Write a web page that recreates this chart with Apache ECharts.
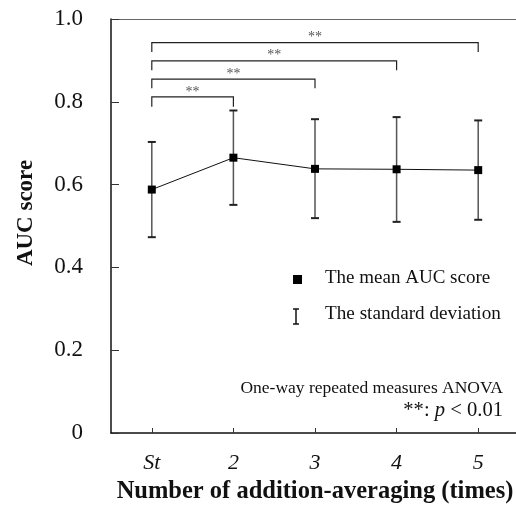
<!DOCTYPE html>
<html>
<head>
<meta charset="utf-8">
<script src="https://cdn.jsdelivr.net/npm/echarts@6/dist/echarts.min.js"></script>
<style>html,body{margin:0;padding:0;background:#fff;}#c{width:516px;height:505px;}</style>
</head>
<body>
<div id="c"></div>
<script>
// ---- data ----
var categories = ['St', '2', '3', '4', '5'];
var meanAUC = [0.588, 0.665, 0.638, 0.637, 0.635];
var sdUpper = [0.703, 0.779, 0.758, 0.763, 0.755];
var sdLower = [0.473, 0.551, 0.519, 0.510, 0.515];
var yTickLabels = ['0', '0.2', '0.4', '0.6', '0.8', '1.0'];
// significance brackets: [from category index, to category index, bar level, drop level]
var bracketFrom = [0, 0, 0, 0];
var bracketTo = [1, 2, 3, 4];
var bracketTop = [0.812, 0.855, 0.899, 0.943];
var bracketDrop = [0.788, 0.833, 0.876, 0.920];
var bracketLabel = ['**', '**', '**', '**'];

var FONT = '"Liberation Serif", "DejaVu Serif", serif';

var chart = echarts.init(document.getElementById('c'));

var errData = categories.map(function (c, i) { return [i, sdLower[i], sdUpper[i]]; });
var brData = bracketFrom.map(function (f, i) { return [f, bracketTo[i], bracketTop[i], bracketDrop[i], i]; });

chart.setOption({
  animation: false,
  backgroundColor: '#fff',
  grid: { left: 111, top: 19, width: 408, height: 414, containLabel: false, outerBoundsMode: 'none' },
  xAxis: [{
    type: 'category',
    data: categories,
    boundaryGap: true,
    axisLine: { show: true, lineStyle: { color: '#111', width: 1.5 } },
    axisTick: { show: true, inside: true, length: 5, alignWithLabel: true, lineStyle: { color: '#333' } },
    axisLabel: { fontFamily: FONT, fontSize: 22, fontStyle: 'italic', color: '#111', margin: 19 },
    name: 'Number of addition-averaging (times)',
    nameLocation: 'middle',
    nameGap: 42,
    nameTextStyle: { fontFamily: FONT, fontSize: 24.5, fontWeight: 'bold', color: '#111' },
    splitLine: { show: false }
  }, {
    type: 'category',
    data: categories,
    position: 'top',
    axisLine: { show: true, lineStyle: { color: '#666', width: 1 } },
    axisTick: { show: false },
    axisLabel: { show: false }
  }],
  yAxis: {
    type: 'value',
    min: 0, max: 1, interval: 0.2,
    axisLine: { show: true, lineStyle: { color: '#111', width: 1.5 } },
    axisTick: { show: true, inside: true, length: 8, lineStyle: { color: '#333' } },
    axisLabel: {
      fontFamily: FONT, fontSize: 23, color: '#111', margin: 28,
      formatter: function (v) { return yTickLabels[Math.round(v / 0.2)]; }
    },
    splitLine: { show: false },
    name: 'AUC score',
    nameLocation: 'middle',
    nameGap: 73,
    nameTextStyle: { fontFamily: FONT, fontSize: 23, fontWeight: 'bold', color: '#111', padding: [0, 0, 0, 26] }
  },
  series: [{
    type: 'custom',
    name: 'sd',
    data: errData,
    z: 2,
    renderItem: function (params, api) {
      var x = api.value(0);
      var lo = api.coord([x, api.value(1)]);
      var hi = api.coord([x, api.value(2)]);
      var w = 4;
      return {
        type: 'group',
        children: [
          { type: 'line', shape: { x1: lo[0], y1: lo[1], x2: hi[0], y2: hi[1] }, style: { stroke: '#555', lineWidth: 1.5 } },
          { type: 'line', shape: { x1: lo[0] - w, y1: lo[1], x2: lo[0] + w, y2: lo[1] }, style: { stroke: '#222', lineWidth: 2 } },
          { type: 'line', shape: { x1: hi[0] - w, y1: hi[1], x2: hi[0] + w, y2: hi[1] }, style: { stroke: '#222', lineWidth: 2 } }
        ]
      };
    }
  }, {
    type: 'line',
    name: 'mean',
    data: meanAUC,
    z: 3,
    symbol: 'rect',
    symbolSize: 8,
    itemStyle: { color: '#000' },
    lineStyle: { color: '#111', width: 1 }
  }, {
    type: 'custom',
    name: 'brackets',
    data: brData,
    z: 2,
    renderItem: function (params, api) {
      var a = api.coord([api.value(0), api.value(2)]);
      var b = api.coord([api.value(1), api.value(2)]);
      var d = api.coord([api.value(0), api.value(3)]);
      var lab = bracketLabel[api.value(4)];
      return {
        type: 'group',
        children: [
          { type: 'polyline', shape: { points: [[a[0], d[1]], [a[0], a[1]], [b[0], b[1]], [b[0], d[1]]] }, style: { stroke: '#222', lineWidth: 1.2, fill: null } },
          { type: 'text', style: { text: lab, x: (a[0] + b[0]) / 2, y: a[1] + 2, align: 'center', verticalAlign: 'bottom', fontFamily: FONT, fontSize: 14, fill: '#555' } }
        ]
      };
    }
  }],
  graphic: [
    { type: 'rect', shape: { x: 293, y: 275, width: 9, height: 9 }, style: { fill: '#000' } },
    { type: 'text', style: { text: 'The mean AUC score', x: 325, y: 278, verticalAlign: 'middle', fontFamily: FONT, fontSize: 19, fill: '#111' } },
    { type: 'polyline', shape: { points: [[293, 309], [299, 309]] }, style: { stroke: '#111', lineWidth: 1.5 } },
    { type: 'polyline', shape: { points: [[296, 309], [296, 324]] }, style: { stroke: '#111', lineWidth: 1.5 } },
    { type: 'polyline', shape: { points: [[293, 324], [299, 324]] }, style: { stroke: '#111', lineWidth: 1.5 } },
    { type: 'text', style: { text: 'The standard deviation', x: 325, y: 314, verticalAlign: 'middle', fontFamily: FONT, fontSize: 19.2, fill: '#111' } },
    { type: 'text', style: { text: 'One-way repeated measures ANOVA', x: 503, y: 388, align: 'right', verticalAlign: 'middle', fontFamily: FONT, fontSize: 17.5, fill: '#111' } },
    { type: 'text', style: {
        text: '{n|**: }{i|p}{n| < 0.01}', x: 503, y: 411, align: 'right', verticalAlign: 'middle',
        rich: {
          n: { fontFamily: FONT, fontSize: 20.6, fill: '#111' },
          i: { fontFamily: FONT, fontSize: 20.6, fontStyle: 'italic', fill: '#111' }
        }
    } }
  ]
});
</script>
</body>
</html>
